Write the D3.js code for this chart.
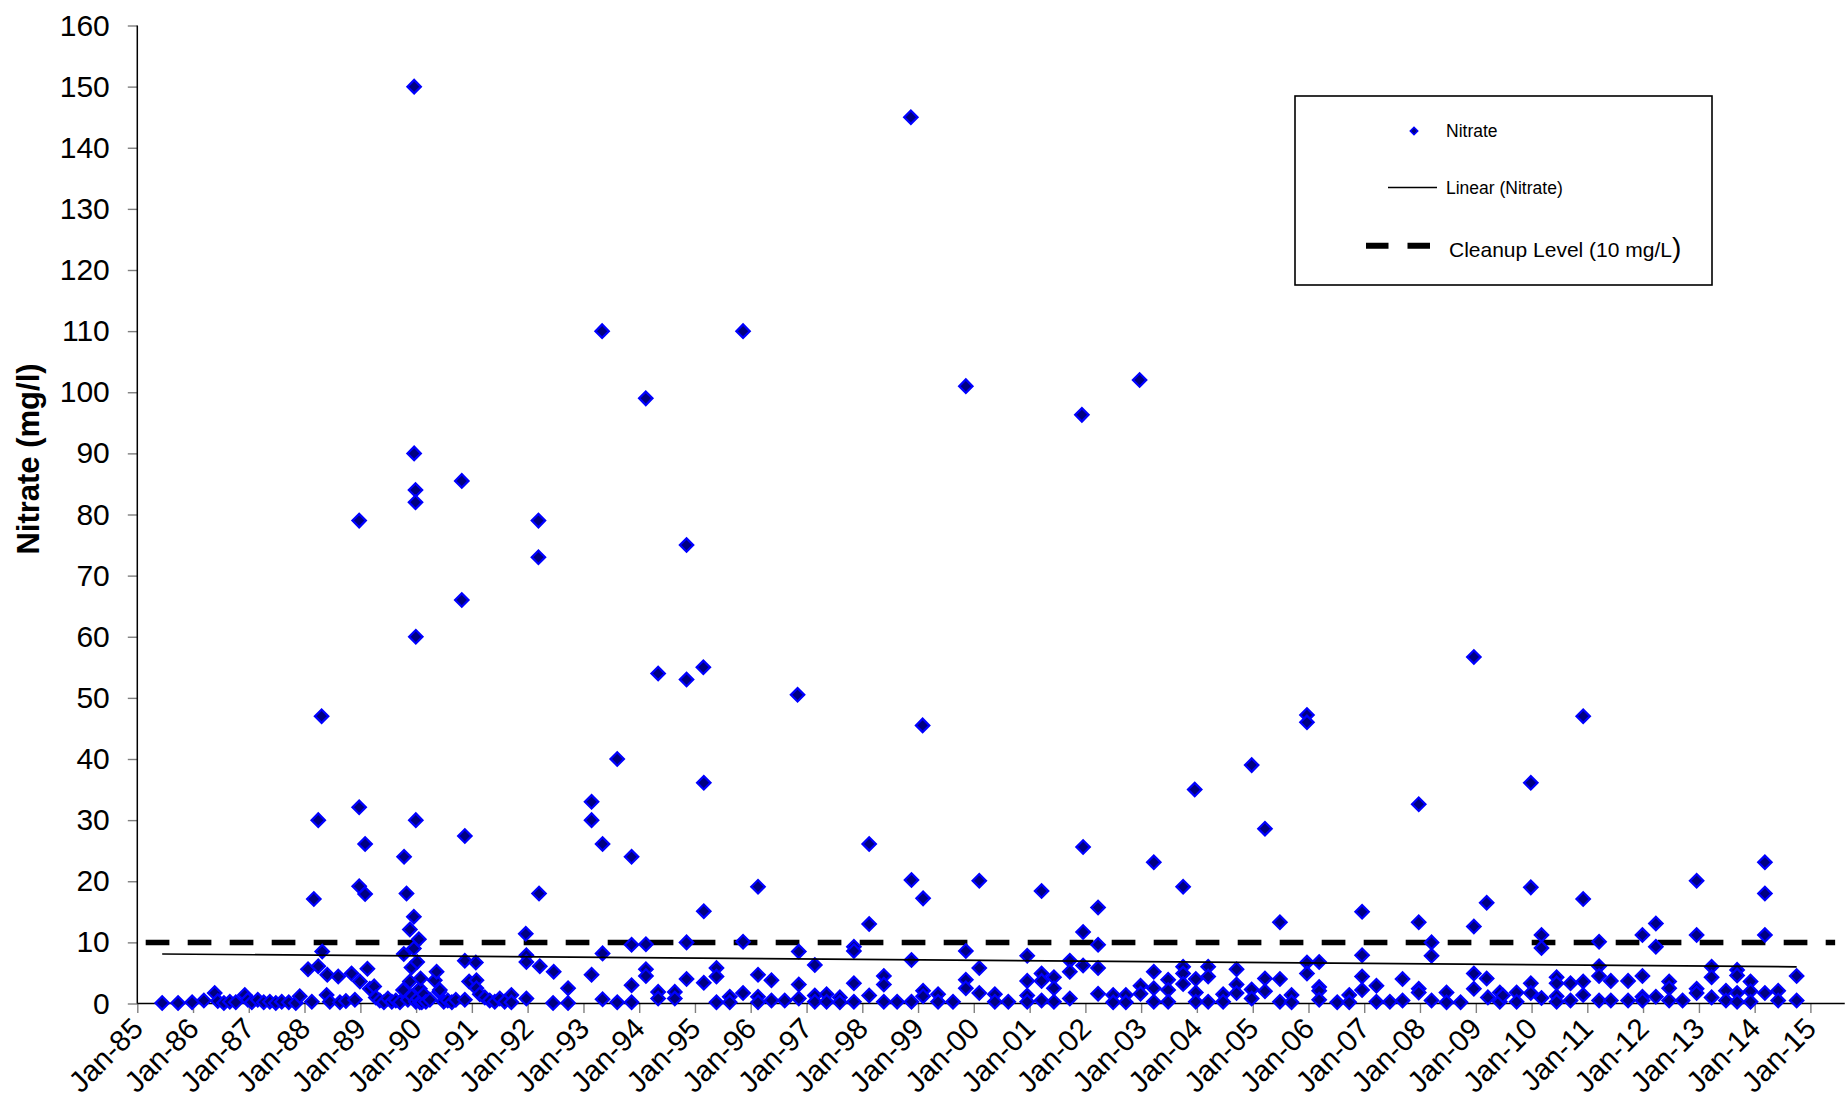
<!DOCTYPE html>
<html>
<head>
<meta charset="utf-8">
<title>Nitrate (mg/l)</title>
<script src="https://cdn.jsdelivr.net/npm/d3@7"></script>
<style>
  html, body { margin: 0; padding: 0; background: #ffffff; }
  svg { display: block; }
</style>
</head>
<body>
<svg id="chart" width="1848" height="1112"></svg>
<script>
// Sampling events (one date, one or more wells sampled that day)
const sampleDates = [
  "1985-06-13","1985-09-25","1985-12-26","1986-03-13","1986-05-23","1986-06-12","1986-07-22","1986-08-30",
  "1986-10-08","1986-12-06","1986-12-26","1987-01-21","1987-03-01","1987-04-09","1987-05-19","1987-06-27",
  "1987-08-05","1987-09-20","1987-11-05","1987-12-01","1988-01-24","1988-02-18","1988-03-02","1988-03-31",
  "1988-04-22","1988-04-26","1988-05-25","1988-05-29","1988-06-15","1988-08-09","1988-08-20","1988-09-28",
  "1988-11-04","1988-11-26","1988-12-24","1988-12-29","1989-02-01","1989-02-16","1989-03-04","1989-04-01",
  "1989-04-12","1989-05-08","1989-06-04","1989-06-30","1989-07-26","1989-08-21","1989-09-17","1989-10-08",
  "1989-10-12","1989-10-14","1989-10-30","1989-11-08","1989-11-21","1989-12-02","1989-12-04","1989-12-17",
  "1989-12-19","1989-12-28","1989-12-30","1990-01-08","1990-01-12","1990-01-19","1990-01-25","1990-01-30",
  "1990-02-07","1990-02-20","1990-03-06","1990-04-01","1990-05-03","1990-05-15","1990-06-01","1990-06-05",
  "1990-07-01","1990-07-27","1990-08-23","1990-09-18","1990-10-27","1990-11-16","1990-12-14","1991-01-27",
  "1991-01-31","1991-02-22","1991-03-27","1991-04-28","1991-05-31","1991-07-03","1991-08-04","1991-09-17",
  "1991-12-20","1991-12-24","1992-03-12","1992-03-16","1992-03-21","1992-06-16","1992-06-20","1992-09-22",
  "1993-02-23","1993-05-03","1993-05-06","1993-08-10","1993-11-12","1994-02-13","1994-02-14","1994-05-05",
  "1994-08-22","1994-11-07","1995-02-25","1995-02-28","1995-05-22","1995-08-17","1995-11-12","1996-02-18",
  "1996-05-16","1996-08-11","1996-11-03","1996-11-11","1997-02-24","1997-05-12","1997-08-07","1997-11-07",
  "1998-02-15","1998-05-22","1998-08-17","1998-11-15","1998-11-19","1999-01-31","1999-02-03","1999-05-12",
  "1999-08-18","1999-11-10","2000-02-06","2000-05-18","2000-08-14","2000-12-16","2001-03-20","2001-06-09",
  "2001-09-21","2001-12-09","2001-12-17","2002-03-25","2002-07-02","2002-09-23","2002-12-22","2002-12-28",
  "2003-03-25","2003-06-27","2003-10-03","2003-12-18","2003-12-25","2004-03-15","2004-06-21","2004-09-17",
  "2004-12-25","2005-03-22","2005-06-28","2005-09-12","2005-12-22","2006-03-12","2006-07-08","2006-09-25",
  "2006-12-18","2007-03-22","2007-06-18","2007-09-09","2007-12-24","2008-03-17","2008-06-23","2008-09-23",
  "2008-12-19","2009-03-13","2009-03-21","2009-06-07","2009-06-27","2009-09-25","2009-12-27","2010-03-07",
  "2010-06-14","2010-09-13","2010-12-05","2011-03-19","2011-06-04","2011-09-25","2011-12-28","2012-03-25",
  "2012-06-20","2012-09-16","2012-12-17","2013-03-25","2013-06-27","2013-09-08","2013-12-05","2014-03-09",
  "2014-06-04","2014-10-03"
];

// Nitrate results (mg/l) for each sampling event, same order as sampleDates
const nitrateBySample = [
  [0.1],[0.1],[0.2],[0.5],[1.7],[0.4],[0.1],[0.3],
  [0.2],[1.4],[0.6],[0.2],[0.6],[0.2],[0.3],[0.1],
  [0.3],[0.2],[0.1],[1.2],[5.6],[0.3],[17.1],[30.0,6.1],
  [47],[8.5],[1.4],[4.7],[0.3],[4.4],[0.2],[0.4],
  [4.9],[0.6],[79,32.1,19.2],[3.6],[26.1,17.9],[5.7],[2.4],[2.8],
  [1.0],[0.5],[0.2],[0.8],[0.3],[0.5],[0.2],[2.2],
  [8.1],[24.0],[18.0],[0.6],[12.1,3.6],[5.9],[1.2],[14.2,9.0],
  [150,90],[84,82],[60,30.0,0.3],[6.8],[0.8],[10.5],[2.4,0.2],[4.1],
  [0.2],[1.5],[0.3],[0.6],[3.8],[5.2],[1.9],[2.2],
  [0.3],[0.5],[0.2],[0.6],[85.5,66],[27.4,7.0,0.6],[3.6],[6.7],
  [3.8,2.5],[1.5],[1.0],[0.5],[0.3],[0.8],[0.3],[1.4,0.2],
  [11.4],[7.9,6.8,0.8],[79,73],[18.0],[6.1],[0.1],[5.2],[2.5,0.1],
  [33.0,30.0,4.7],[110],[26.1,8.2,0.7],[40,0.2],[24.0,9.6,3.0,0.2],[99],[9.7,5.6,4.5],[54,1.9,0.8],
  [1.9,0.8],[75,53,10.0,4.0],[55],[36.1,15.1,3.4],[5.8,4.4,0.2],[1.1,0.2],[110,10.1,1.7],[19.1,4.7,1.1,0.2],
  [3.8,0.5],[0.5],[50.5],[8.5,3.1,0.8],[6.3,1.3,0.3],[1.5,0.3],[1.0,0.2],[9.3,8.6,3.3,0.3],
  [26.1,13.0,1.3],[4.5,3.1,0.3],[0.3],[145],[20.2,7.1,0.3],[45.5],[17.2,2.1,1.2],[1.5,0.3],
  [0.3],[101,8.6,3.9,2.5],[20.1,5.8,1.7],[1.5,0.3],[0.3],[7.8,3.7,1.3,0.3],[18.4,4.9,3.7,0.5],[4.3,2.5,0.3],
  [7.0,5.2,0.8],[96.3],[25.6,11.7,6.2],[15.7,9.6,5.8,1.6],[1.4,0.2],[1.4,0.2],[102],[2.9,1.6],
  [23.1,5.2,2.5,0.3],[3.9,2.2,0.3],[19.1,6.0,4.9,3.2],[35],[4.0,1.8,0.3],[6.0,4.4,0.3],[1.5,0.3],[5.6,3.1,1.7],
  [39.0,2.3,0.8],[28.6,4.1,2.0],[13.3,4.0,0.3],[1.4,0.2],[47.2,46.0,6.7,4.9],[6.8,2.7,2.1,0.6],[0.2],[1.4,0.2],
  [15.0,7.9,4.4,2.2],[2.9,0.3],[0.3],[4.0,0.5],[32.6,13.3,2.4,1.8],[10.0,7.8,0.5],[1.8,0.2],[0.2],
  [56.7,12.6,4.9,2.4],[16.5,4.1],[1.0],[1.8,0.3],[1.3],[1.8,0.3],[36.1,19.0,3.3,1.7],[11.2,9.1,0.9],
  [4.3,3.3,1.2,0.3],[3.3,0.5],[47,17.1,3.6,1.4],[10.1,6.1,4.5,0.5],[3.7,0.5],[3.7,0.5],[11.2,4.5,1.1,0.5],[13.1,9.3,1.1],
  [3.6,2.5,0.5],[0.5],[20.1,11.2,2.4,1.7],[6.0,4.3,1.0],[2.1,0.5],[5.5,4.6,1.7,0.3],[3.6,2.0,0.3],[23.1,18.0,11.2,1.7],
  [2.1,0.5],[4.5,0.5]
];

// Linear trend of the full record (mg/l) at the first and last sampling dates
const trendValues = [8.1, 6.0];

// Cleanup level reference line (mg/l) and the dates it spans
const cleanupLevel = 10;
const cleanupSpan = ["1985-02-25", "2015-06-12"];

// Axis extents and ticks
const xDomain = ["1985-01-01", "2015-01-01"];
const xAxisEnd = "2015-08-14";
const yTicks = [0, 10, 20, 30, 40, 50, 60, 70, 80, 90, 100, 110, 120, 130, 140, 150, 160];

// Legend text
const legendLabels = ["Nitrate", "Linear (Nitrate)", "Cleanup Level (10 mg/L"];

const FONT = "'Liberation Sans', Arial, Helvetica, sans-serif";
const parse = d3.utcParse("%Y-%m-%d");

const points = sampleDates.flatMap((d, i) =>
  nitrateBySample[i].map(v => ({ date: parse(d), value: v })));

const x = d3.scaleUtc()
  .domain(xDomain.map(parse))
  .range([137.3, 1810.4]);
const y = d3.scaleLinear()
  .domain([0, 160])
  .range([1003.5, 25.5]);

const svg = d3.select("#chart");

// ---- y axis ----
const gy = svg.append("g")
  .attr("transform", `translate(${x.range()[0]},0)`)
  .call(d3.axisLeft(y).tickValues(yTicks).tickSize(9.5).tickPadding(18).tickFormat(d3.format("d")));
gy.attr("font-family", FONT).attr("font-size", 30);
gy.select(".domain").remove();
gy.selectAll(".tick line").attr("stroke", "#7f7f7f").attr("stroke-width", 1.4);
gy.selectAll(".tick text").attr("fill", "#000");

// ---- x axis ----
const yearTicks = d3.utcYear.range(parse(xDomain[0]), d3.utcDay.offset(parse(xDomain[1]), 1));
const gx = svg.append("g")
  .attr("transform", `translate(0,${y(0)})`)
  .call(d3.axisBottom(x).tickValues(yearTicks).tickSize(9.5).tickFormat(d3.utcFormat("%b-%y")));
gx.attr("font-family", FONT).attr("font-size", 29.5);
gx.select(".domain").remove();
gx.selectAll(".tick line").attr("stroke", "#7f7f7f").attr("stroke-width", 1.4);
gx.selectAll(".tick text")
  .attr("fill", "#000")
  .attr("x", 0).attr("y", 0).attr("dy", null)
  .attr("text-anchor", "end")
  .attr("transform", "translate(7,27) rotate(-45)");

// axis lines
svg.append("line")
  .attr("x1", x.range()[0]).attr("x2", x.range()[0])
  .attr("y1", y(160)).attr("y2", y(0))
  .attr("stroke", "#000").attr("stroke-width", 1.5);
svg.append("line")
  .attr("x1", x.range()[0]).attr("x2", x(parse(xAxisEnd)))
  .attr("y1", y(0)).attr("y2", y(0))
  .attr("stroke", "#000").attr("stroke-width", 1.5);

// ---- cleanup level ----
svg.append("line")
  .attr("x1", x(parse(cleanupSpan[0]))).attr("x2", x(parse(cleanupSpan[1])))
  .attr("y1", y(cleanupLevel)).attr("y2", y(cleanupLevel))
  .attr("stroke", "#000").attr("stroke-width", 5.5)
  .attr("stroke-dasharray", "23.7,18.3");

// ---- nitrate results ----
const diamond = d3.symbol().type(d3.symbolSquare).size(90);
svg.append("g")
  .selectAll("path")
  .data(points)
  .join("path")
  .attr("d", diamond)
  .attr("transform", d => `translate(${x(d.date)},${y(d.value)}) rotate(45)`)
  .attr("fill", "#000080")
  .attr("stroke", "#0000ff")
  .attr("stroke-width", 2.2);

// ---- linear trend, spanning the sampled record ----
const dateExtent = d3.extent(points, p => p.date);
svg.append("line")
  .attr("x1", x(dateExtent[0])).attr("y1", y(trendValues[0]))
  .attr("x2", x(dateExtent[1])).attr("y2", y(trendValues[1]))
  .attr("stroke", "#000").attr("stroke-width", 1.7);

// ---- y axis title ----
svg.append("text")
  .attr("transform", "translate(39,459) rotate(-90)")
  .attr("text-anchor", "middle")
  .attr("font-family", FONT)
  .attr("font-weight", "bold")
  .attr("font-size", 31)
  .text("Nitrate (mg/l)");

// ---- legend ----
const lg = svg.append("g").attr("font-family", FONT);
lg.append("rect")
  .attr("x", 1295).attr("y", 96).attr("width", 417).attr("height", 189)
  .attr("fill", "#fff").attr("stroke", "#000").attr("stroke-width", 1.6);
lg.append("path")
  .attr("d", d3.symbol().type(d3.symbolSquare).size(28))
  .attr("transform", "translate(1414,131) rotate(45)")
  .attr("fill", "#000080").attr("stroke", "#0000ff").attr("stroke-width", 1.5);
lg.append("text").attr("x", 1446).attr("y", 137).attr("font-size", 17.5).text(legendLabels[0]);
lg.append("line")
  .attr("x1", 1388).attr("x2", 1437).attr("y1", 187.5).attr("y2", 187.5)
  .attr("stroke", "#000").attr("stroke-width", 1.5);
lg.append("text").attr("x", 1446).attr("y", 194).attr("font-size", 17.5).text(legendLabels[1]);
lg.append("line")
  .attr("x1", 1366).attr("x2", 1430).attr("y1", 245.7).attr("y2", 245.7)
  .attr("stroke", "#000").attr("stroke-width", 6)
  .attr("stroke-dasharray", "22.5,19");
const cl = lg.append("text").attr("x", 1449).attr("y", 257).attr("font-size", 21);
cl.append("tspan").text(legendLabels[2]);
cl.append("tspan").attr("font-size", 28).text(")");
</script>
</body>
</html>
